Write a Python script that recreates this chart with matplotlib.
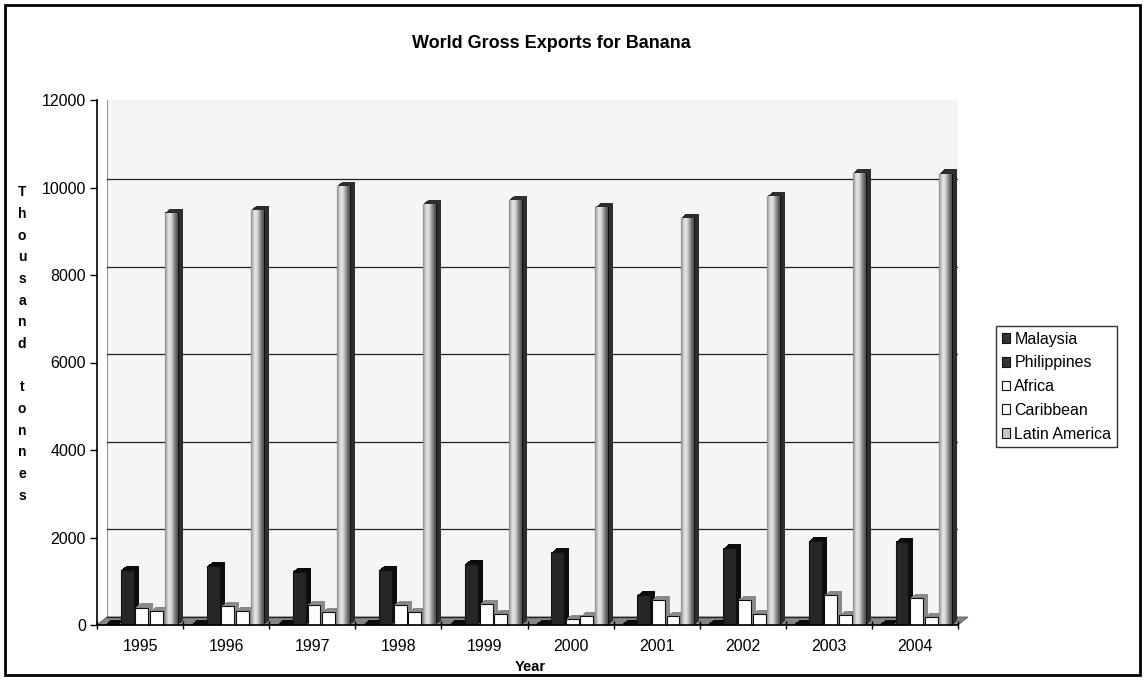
import numpy as np
import matplotlib
matplotlib.use("Agg")
import matplotlib.pyplot as plt
import matplotlib.patheffects as pe
import matplotlib.transforms as mtransforms
from matplotlib.patches import Rectangle, Polygon, Patch

plt.rcParams['font.family'] = ['Liberation Sans', 'DejaVu Sans']

# data (thousand tonnes)
years = ['1995', '1996', '1997', '1998', '1999', '2000', '2001', '2002', '2003', '2004']
series = ['Malaysia', 'Philippines', 'Africa', 'Caribbean', 'Latin America']
malaysia = [30, 30, 30, 30, 30, 30, 30, 30, 30, 30]
philippines = [1250, 1340, 1220, 1250, 1400, 1660, 680, 1750, 1930, 1900]
africa = [400, 430, 460, 450, 480, 130, 570, 570, 680, 620]
caribbean = [310, 330, 300, 290, 250, 200, 200, 260, 220, 190]
latin_america = [9420, 9480, 10030, 9620, 9710, 9550, 9310, 9800, 10340, 10320]

values = [malaysia, philippines, africa, caribbean, latin_america]
face_colors = ['#2a2a2a', '#262626', 'white', 'white', '#b8b8b8']
side_colors = ['#0c0c0c', '#0c0c0c', '#8a8a8a', '#8a8a8a', '#2e2e2e']
legend_colors = ['#333333', '#333333', 'white', 'white', '#c8c8c8']

fig = plt.figure(figsize=(11.45, 6.8), dpi=100)
ax = fig.add_axes([97 / 1145, 55 / 680, 861 / 1145, 525 / 680])
ax.set_facecolor('none')

# back wall, shifted up/right for the 3D look
wall_off = mtransforms.ScaledTranslation(7 / 72, 6 / 72, fig.dpi_scale_trans)
wall = Rectangle((0, 0), 1, 1, transform=ax.transAxes + wall_off,
                 facecolor='#f5f5f5', edgecolor='#9a9a9a', lw=0.8, zorder=0)
ax.add_patch(wall)
dx, dy = 10 / 861, 8 / 525
floor = Polygon([(0, 0), (1, 0), (1 + dx, dy), (dx, dy)], closed=True,
                transform=ax.transAxes, facecolor='#858585', edgecolor='#555555',
                lw=0.6, clip_on=False, zorder=0.5)
ax.add_patch(floor)

x = np.arange(len(years))
step = 0.17
width = 0.15
depth = np.linspace(1.0, 0.1, 10)
for i, (vals, fc, sc) in enumerate(zip(values, face_colors, side_colors)):
    pos = x + (i - 2) * step + 0.02
    effects = [pe.SimplePatchShadow(offset=(3.6 * k, 2.9 * k), shadow_rgbFace=sc, alpha=1)
               for k in depth]
    effects.append(pe.Normal())
    bars = ax.bar(pos, vals, width=width, color=fc, edgecolor='#111111', lw=0.8,
                  zorder=2 + i * 0.1, path_effects=effects)
    if series[i] == 'Latin America':
        shade = np.array([0.55, 0.72, 0.86, 0.9, 0.82, 0.68, 0.52, 0.4, 0.32])
        grad = np.interp(np.linspace(0, 8, 60), np.arange(9), shade)[None, :]
        for b in bars:
            im = ax.imshow(grad, cmap='gray', vmin=0, vmax=1, aspect='auto',
                           extent=[b.get_x(), b.get_x() + b.get_width(), 0, b.get_height()],
                           zorder=b.get_zorder() + 0.01)
            im.set_clip_path(b)

ax.set_xlim(-0.5, len(years) - 0.5)
ax.set_ylim(0, 12000)
ax.set_aspect('auto')

ax.set_yticks(np.arange(0, 12001, 2000))
ax.set_xticks(x)
ax.set_xticklabels(years)
ax.set_xticks(np.arange(-0.5, len(years)), minor=True)
ax.tick_params(axis='x', which='major', length=0, labelsize=11.5, pad=10)
ax.tick_params(axis='x', which='minor', length=6, width=1, direction='inout')
ax.tick_params(axis='y', length=5, width=1, labelsize=11.5, pad=3)

ax.grid(axis='y', color='#222222', lw=0.9, zorder=1)
ax.set_axisbelow(True)
for gl in ax.get_ygridlines():
    gl.set_transform(gl.get_transform() + wall_off)

for s in ['top', 'right']:
    ax.spines[s].set_visible(False)
ax.spines['left'].set_linewidth(1.2)
ax.spines['bottom'].set_linewidth(1.2)

fig.text(551 / 1145, 1 - 43 / 680, 'World Gross Exports for Banana',
         ha='center', va='center', fontsize=13, fontweight='bold')
fig.text(530 / 1145, 1 - 667 / 680, 'Year', ha='center', va='center',
         fontsize=10.5, fontweight='bold')
fig.text(22 / 1145, 1 - 344 / 680, '\n'.join('Thousand tonnes'),
         ha='center', va='center', fontsize=10, fontweight='bold', linespacing=1.7)

handles = [Patch(facecolor=c, edgecolor='#111111', lw=0.8) for c in legend_colors]
leg = fig.legend(handles, series, loc='upper left',
                 bbox_to_anchor=(996 / 1145, 1 - 326 / 680),
                 fontsize=11.5, frameon=True, fancybox=False, edgecolor='black',
                 handlelength=0.55, handleheight=0.55, handletextpad=0.25,
                 labelspacing=0.55, borderpad=0.35, borderaxespad=0)
leg.get_frame().set_linewidth(1)

fig.add_artist(Rectangle((0.004, 0.007), 0.992, 0.986, transform=fig.transFigure,
                         fill=False, edgecolor='black', lw=2))

fig.savefig('out.png', dpi=100, facecolor='white')
